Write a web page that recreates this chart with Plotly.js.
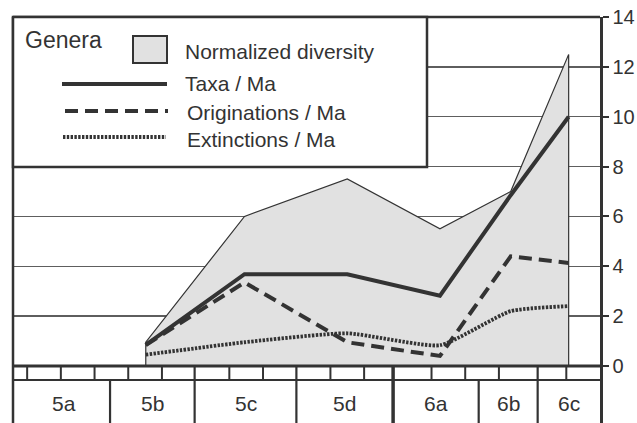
<!DOCTYPE html>
<html>
<head>
<meta charset="utf-8">
<script src="https://cdn.plot.ly/plotly-3.0.1.min.js"></script>
<style>
  html, body { margin: 0; padding: 0; background: #fff; }
  #chart { width: 637px; height: 423px; }
</style>
</head>
<body>
<div id="chart"></div>
<script>
// Stages along the time axis and their boundaries (axis units)
const stages = ['5a', '5b', '5c', '5d', '6a', '6b', '6c'];
const stageBounds = [-0.25, 2.46, 4.97, 7.99, 10.86, 13.4, 15.15, 17];

// Sampled positions of the curves on the time axis
const pointX = [3.52, 6.45, 9.5, 12.25, 14.35, 16.07];

// Genera per stage
const diversity = [0.95, 6.0, 7.5, 5.5, 7.0, 12.5];     // normalized diversity
const taxa = [0.84, 3.68, 3.68, 2.82, 6.85, 10.0];       // taxa / Ma
const originations = [0.84, 3.35, 0.95, 0.4, 4.4, 4.13]; // originations / Ma
const extinctions = [0.45, 0.95, 1.31, 0.83, 2.2, 2.4];  // extinctions / Ma

const yTicks = [0, 2, 4, 6, 8, 10, 12, 14];

const INK = '#333333';
const FILL = '#e1e1e1';
const FONT = 'Liberation Sans, Arial, sans-serif';
const DOT = '2.4px,1.4px';
const DASH = '13px,7px';

const W = 637, H = 423;
const M = { l: 13, r: 37, t: 17, b: 0 };
const PW = W - M.l - M.r, PH = H - M.t - M.b;
// pixel -> paper helpers for the legend block
const px = v => (v - M.l) / PW;
const py = v => (H - M.b - v) / PH;

const xRange = [-0.42, 17];
const yRange = [-2.29, 14];
const rowSplit = -0.56; // bottom of the thin scale row

const traces = [
  {
    x: [pointX[0]].concat(pointX, [pointX[pointX.length - 1]]),
    y: [0].concat(diversity, [0]),
    mode: 'lines', fill: 'toself', fillcolor: FILL,
    line: { color: INK, width: 1.2 }, name: 'Normalized diversity'
  },
  {
    x: pointX, y: extinctions, mode: 'lines',
    line: { color: INK, width: 3.8, dash: DOT, shape: 'spline', smoothing: 0.5 },
    name: 'Extinctions / Ma'
  },
  {
    x: pointX, y: originations, mode: 'lines',
    line: { color: INK, width: 4, dash: DASH }, name: 'Originations / Ma'
  },
  {
    x: pointX, y: taxa, mode: 'lines',
    line: { color: INK, width: 4 }, name: 'Taxa / Ma'
  }
];

const shapes = [];
function dataLine(x0, y0, x1, y1, w) {
  shapes.push({ type: 'line', xref: 'x', yref: 'y', x0, y0, x1, y1, layer: 'above',
    line: { color: INK, width: w } });
}
// zero line and the thin scale row
dataLine(xRange[0], 0, xRange[1], 0, 3);
dataLine(xRange[0], rowSplit, xRange[1], rowSplit, 2);

// thin row dividers (one per unit), replaced by stage boundaries where they meet
const inner = stageBounds.slice(1, -1);
for (let k = 0; k < Math.floor(xRange[1]); k++) {
  if (inner.some(b => Math.abs(b - k) < 0.3)) continue;
  dataLine(k, 0, k, rowSplit, 2);
}
inner.forEach(b => {
  const near = Math.abs(b - Math.round(b)) < 0.3;
  const thick = b > 10 && b < 11;
  dataLine(b, near ? 0 : rowSplit, b, yRange[0], thick ? 3.5 : 2.2);
});

// outer frame (left and top)
shapes.push({ type: 'line', xref: 'paper', yref: 'paper', x0: 0, x1: 0, y0: 0, y1: 1,
  layer: 'above', line: { color: INK, width: 2.5 } });
shapes.push({ type: 'line', xref: 'paper', yref: 'paper', x0: 0, x1: 1, y0: 1, y1: 1,
  layer: 'above', line: { color: INK, width: 2.5 } });

// legend block
shapes.push({ type: 'rect', xref: 'paper', yref: 'paper',
  x0: px(13), x1: px(427), y0: py(167), y1: py(17), layer: 'above',
  fillcolor: '#ffffff', line: { color: INK, width: 2.5 } });
shapes.push({ type: 'rect', xref: 'paper', yref: 'paper',
  x0: px(133), x1: px(167), y0: py(63), y1: py(36), layer: 'above',
  fillcolor: FILL, line: { color: INK, width: 2 } });
const legendLine = (x0, x1, y, w, dash) => shapes.push({
  type: 'line', xref: 'paper', yref: 'paper', x0: px(x0), x1: px(x1), y0: py(y), y1: py(y),
  layer: 'above', line: { color: INK, width: w, dash }
});
legendLine(62, 167, 84, 4, 'solid');
legendLine(65, 168, 111, 4, DASH);
legendLine(63, 166, 137, 3.8, DOT);

const annotations = [];
const text = (t, x, y, size) => annotations.push({
  text: t, xref: 'paper', yref: 'paper', x: px(x), y: py(y),
  xanchor: 'left', yanchor: 'middle', showarrow: false,
  font: { family: FONT, size, color: INK }
});
text('Genera', 23, 40, 23);
text('Normalized diversity', 183, 52, 21);
text('Taxa / Ma', 183, 84, 21);
text('Originations / Ma', 185, 112, 21);
text('Extinctions / Ma', 185, 139, 21);

// stage labels
stages.forEach((s, i) => annotations.push({
  text: s, xref: 'x', yref: 'y',
  x: (stageBounds[i] + stageBounds[i + 1]) / 2, y: -1.52,
  xanchor: 'center', yanchor: 'middle', showarrow: false,
  font: { family: FONT, size: 21, color: INK }
}));

const layout = {
  width: W, height: H, margin: M,
  paper_bgcolor: '#ffffff', plot_bgcolor: '#ffffff',
  showlegend: false,
  font: { family: FONT, color: INK },
  xaxis: { range: xRange, showgrid: false, zeroline: false, showline: false,
    showticklabels: false, ticks: '', fixedrange: true },
  yaxis: { range: yRange, side: 'right', tickmode: 'array', tickvals: yTicks,
    ticktext: yTicks.map(String), ticks: 'outside', ticklen: 6, tickwidth: 2,
    tickcolor: INK, showline: true, linecolor: INK, linewidth: 2.5,
    showgrid: true, gridcolor: '#5e5e5e', gridwidth: 1.3, zeroline: false,
    tickfont: { family: FONT, size: 20, color: INK }, fixedrange: true },
  shapes, annotations
};

Plotly.newPlot('chart', traces, layout, { staticPlot: true, displayModeBar: false });
</script>
</body>
</html>
